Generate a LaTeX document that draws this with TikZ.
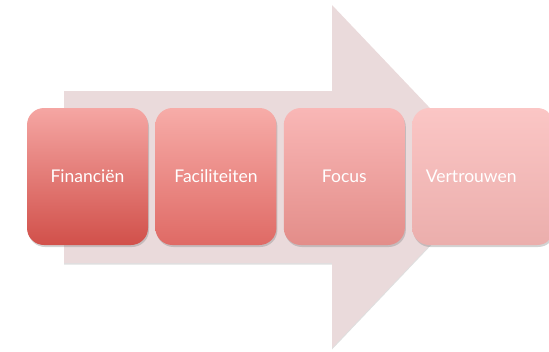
\documentclass[tikz,border=0pt]{standalone}
\usepackage{fontspec}
\setmainfont{Lato}
\usetikzlibrary{positioning,shadows}

\definecolor{arrowpink}{HTML}{EADADB}
\definecolor{finTop}{HTML}{F5A6A3}
\definecolor{finBot}{HTML}{D1504A}
\definecolor{facTop}{HTML}{F7ACA8}
\definecolor{facBot}{HTML}{DF6A65}
\definecolor{focTop}{HTML}{F9B7B6}
\definecolor{focBot}{HTML}{E38D89}
\definecolor{verTop}{HTML}{FBC6C5}
\definecolor{verBot}{HTML}{EBAEAC}

\begin{document}
\begin{tikzpicture}[
        x=1pt, y=-1pt,
        node distance=7pt,
        stage/.style={rounded corners=17pt, minimum width=121pt, minimum height=137pt,
            text=white, font=\fontsize{17.5}{20}\selectfont,
            drop shadow={shadow xshift=1pt, shadow yshift=-2pt, opacity=0.35}}
    ]
    \useasboundingbox (0,0) rectangle (549,351);

    % Arrow
    \fill[arrowpink, drop shadow={shadow xshift=0pt, shadow yshift=-1.5pt, opacity=0.25}]
        (64,91) -- (332,91) -- (332,5) -- (495,176.5) -- (332,348) -- (332,263) -- (64,263) -- cycle;

    % Nodes
    \node[stage, top color=finTop, bottom color=finBot] (fin) at (87.5,176.5) {Financiën};
    \node[stage, top color=facTop, bottom color=facBot, right=of fin] (fac) {Faciliteiten};
    \node[stage, top color=focTop, bottom color=focBot, right=of fac] (foc) {Focus};
    \node[stage, top color=verTop, bottom color=verBot, right=of foc, minimum width=142pt] (ver) {\kern-24pt Vertrouwen};

\end{tikzpicture}
\end{document}
